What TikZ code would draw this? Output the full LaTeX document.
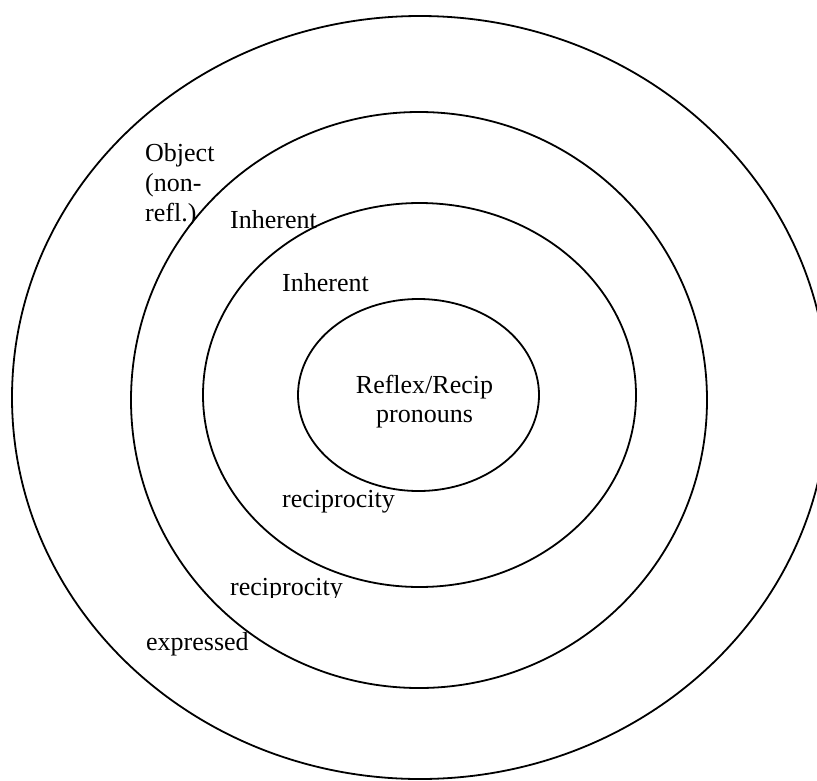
\documentclass[tikz,border=0pt]{standalone}
\usepackage{fontspec}
\setmainfont{Liberation Serif}
\usetikzlibrary{shapes.geometric}
\begin{document}
\begin{tikzpicture}[x=1pt,y=-1pt,
  ring/.style={draw=black,line width=1.8pt,ellipse,inner sep=0pt,outer sep=0pt},
  lbl/.style={anchor=base west,inner sep=0pt,font=\fontsize{26}{30}\selectfont}]
\useasboundingbox (0,0) rectangle (817,780);
\begin{scope}
  \clip (0,0) rectangle (817,780);
  \node[ring,minimum width=816pt,minimum height=763pt] (outer) at (420,397.5) {};
\end{scope}
\node[ring,minimum width=576pt,minimum height=576pt] (second) at (419,400) {};
\node[ring,minimum width=433pt,minimum height=384pt] (third) at (419.5,395) {};
\node[ring,minimum width=241pt,minimum height=192pt] (inner) at (418.5,395) {};

\node[lbl] (obj1) at (145,161) {Object};
\node[lbl] (obj2) at (145,191) {(non-};
\node[lbl] (obj3) at (145,221) {refl.)};
\node[lbl] (inh1) at (230,228) {Inherent};
\node[lbl] (inh2) at (282,291) {Inherent};
\node[lbl,anchor=base] (rr1) at (424.5,393) {Reflex/Recip};
\node[lbl,anchor=base] (rr2) at (424.5,422) {pronouns};
\node[lbl] (rec1) at (282,507) {reciprocity};
\begin{scope}
  \clip (0,0) rectangle (817,597);
  \node[lbl] (rec2) at (230,595) {reciprocity};
\end{scope}
\node[lbl] (expr) at (146,650) {expressed};
\end{tikzpicture}
\end{document}
